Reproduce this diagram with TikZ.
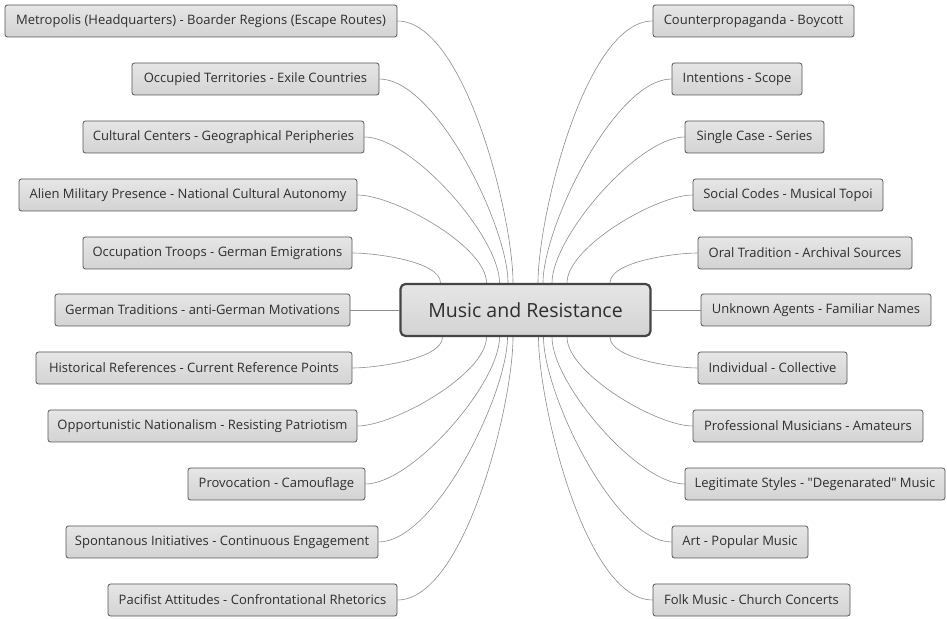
\documentclass[tikz,border=0pt]{standalone}
\usepackage{fontspec}
\setmainfont{Open Sans}[Ligatures=TeXOff]
\definecolor{leafborder}{HTML}{555555}
\definecolor{leaftop}{HTML}{E6E6E6}
\definecolor{leafbot}{HTML}{D3D3D3}
\definecolor{hubborder}{HTML}{454545}
\definecolor{linkc}{HTML}{8C8C8C}
\definecolor{txt}{HTML}{2E2E2E}
\tikzset{
  leaf/.style={draw=leafborder, line width=0.8pt, rounded corners=2.5pt,
    top color=leaftop, bottom color=leafbot, minimum height=32pt,
    inner sep=0pt, text=txt, font=\fontsize{13}{15}\selectfont},
  hub/.style={draw=hubborder, line width=2.2pt, rounded corners=5pt,
    top color=leaftop, bottom color=leafbot, minimum height=52pt,
    minimum width=250pt, inner sep=0pt, text=txt, font=\fontsize{19.5}{23}\selectfont},
  link/.style={draw=linkc, line width=0.6pt},
  softcurve/.style={looseness=0.6}
}
\begin{document}
\begin{tikzpicture}[x=1pt,y=1pt]
\useasboundingbox (0,0) rectangle (947,618);
\fill[white] (0,0) rectangle (947,618);

\node[hub] (C) at (525.5,308) {Music and Resistance};

% left
\node[leaf, minimum width=392pt] (L1) at (201,597) {Metropolis (Headquarters) - Boarder Regions (Escape Routes)};
\node[leaf, minimum width=247pt] (L2) at (255.5,539) {Occupied Territories - Exile Countries};
\node[leaf, minimum width=281pt] (L3) at (223.5,481) {Cultural Centers - Geographical Peripheries};
\node[leaf, minimum width=338pt] (L4) at (188,423) {Alien Military Presence - National Cultural Autonomy};
\node[leaf, minimum width=269pt] (L5) at (217.5,365) {Occupation Troops - German Emigrations};
\node[leaf, minimum width=295pt] (L6) at (202.5,308) {German Traditions - anti-German Motivations};
\node[leaf, minimum width=316pt] (L7) at (194,250) {Historical References - Current Reference Points};
\node[leaf, minimum width=309pt] (L8) at (202.5,192) {Opportunistic Nationalism - Resisting Patriotism};
\node[leaf, minimum width=177pt] (L9) at (276.5,134) {Provocation - Camouflage};
\node[leaf, minimum width=312pt] (L10) at (222,76) {Spontanous Initiatives - Continuous Engagement};
\node[leaf, minimum width=289pt] (L11) at (252.5,18) {Pacifist Attitudes - Confrontational Rhetorics};

% right
\node[leaf, minimum width=201pt] (R1) at (753.5,597) {Counterpropaganda - Boycott};
\node[leaf, minimum width=130pt] (R2) at (737,539) {Intentions - Scope};
\node[leaf, minimum width=139pt] (R3) at (754.5,481) {Single Case - Series};
\node[leaf, minimum width=190pt] (R4) at (788,423) {Social Codes - Musical Topoi};
\node[leaf, minimum width=214pt] (R5) at (805,365) {Oral Tradition - Archival Sources};
\node[leaf, minimum width=230pt] (R6) at (816,308) {Unknown Agents - Familiar Names};
\node[leaf, minimum width=149pt] (R7) at (772.5,250) {Individual - Collective};
\node[leaf, minimum width=230pt] (R8) at (808,192) {Professional Musicians - Amateurs};
\node[leaf, minimum width=260pt] (R9) at (815,134) {Legitimate Styles - "Degenarated" Music};
\node[leaf, minimum width=136pt] (R10) at (740,76) {Art - Popular Music};
\node[leaf, minimum width=197pt] (R11) at (751.5,18) {Folk Music - Church Concerts};

% connectors, left upper
\draw[link] (L1.east) to[out=0,in=90,softcurve] ([xshift=-12.5pt]C.north);
\draw[link] (L2.east) to[out=0,in=90,softcurve] ([xshift=-17.5pt]C.north);
\draw[link] (L3.east) to[out=0,in=90,softcurve] ([xshift=-26pt]C.north);
\draw[link] (L4.east) to[out=0,in=90,softcurve] ([xshift=-39pt]C.north);
\draw[link] (L5.east) to[out=0,in=90,softcurve] ([xshift=-85pt]C.north);
\draw[link] (L6.east) -- (C.west);
% left lower
\draw[link] (L7.east) to[out=0,in=-90,softcurve] ([xshift=-83pt]C.south);
\draw[link] (L8.east) to[out=0,in=-90,softcurve] ([xshift=-39pt]C.south);
\draw[link] (L9.east) to[out=0,in=-90,softcurve] ([xshift=-26pt]C.south);
\draw[link] (L10.east) to[out=0,in=-90,softcurve] ([xshift=-18pt]C.south);
\draw[link] (L11.east) to[out=0,in=-90,softcurve] ([xshift=-12.5pt]C.south);
% right upper
\draw[link] (R1.west) to[out=180,in=90,softcurve] ([xshift=12.5pt]C.north);
\draw[link] (R2.west) to[out=180,in=90,softcurve] ([xshift=17.5pt]C.north);
\draw[link] (R3.west) to[out=180,in=90,softcurve] ([xshift=26.5pt]C.north);
\draw[link] (R4.west) to[out=180,in=90,softcurve] ([xshift=41.5pt]C.north);
\draw[link] (R5.west) to[out=180,in=90,softcurve] ([xshift=84.5pt]C.north);
\draw[link] (R6.west) -- (C.east);
% right lower
\draw[link] (R7.west) to[out=180,in=-90,softcurve] ([xshift=84.5pt]C.south);
\draw[link] (R8.west) to[out=180,in=-90,softcurve] ([xshift=41.5pt]C.south);
\draw[link] (R9.west) to[out=180,in=-90,softcurve] ([xshift=26.5pt]C.south);
\draw[link] (R10.west) to[out=180,in=-90,softcurve] ([xshift=18pt]C.south);
\draw[link] (R11.west) to[out=180,in=-90,softcurve] ([xshift=13pt]C.south);
\end{tikzpicture}
\end{document}
